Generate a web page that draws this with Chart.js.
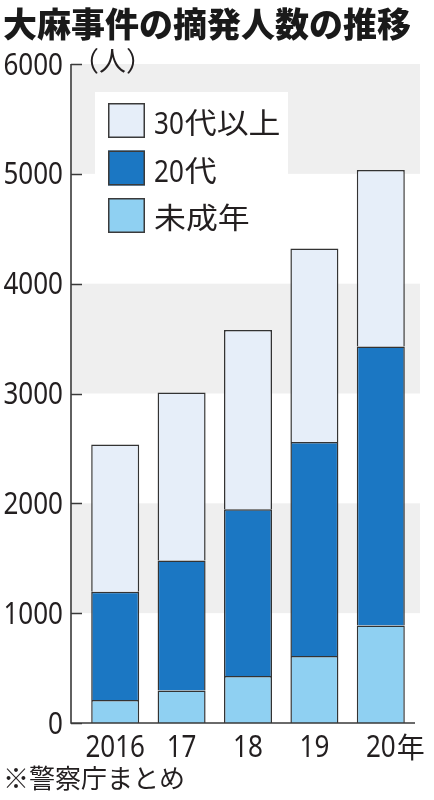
<!DOCTYPE html>
<html lang="ja">
<head>
<meta charset="utf-8">
<script src="https://cdn.jsdelivr.net/npm/chart.js@4.4.1/dist/chart.umd.min.js"></script>
<style>
  html, body { margin: 0; padding: 0; background: #ffffff; }
  canvas { display: block; }
</style>
</head>
<body>
<canvas id="c" width="434" height="800"></canvas>
<script>
// ---- data ----
const titleText = '大麻事件の摘発人数の推移';
const unitText = '（人）';
const sourceText = '※警察庁まとめ';
const categories = ['2016', '17', '18', '19', '20年'];
const seriesNames = ['未成年', '20代', '30代以上'];
const minors = [210, 297, 429, 609, 887];
const twenties = [985, 1183, 1517, 1950, 2540];
const thirtiesPlus = [1341, 1528, 1632, 1762, 1607];
const yTickValues = [0, 1000, 2000, 3000, 4000, 5000, 6000];
const bandRanges = [[1000, 2000], [3000, 4000], [5000, 6000]];

// ---- style ----
const NUM_FONT = "'Noto Sans', 'Open Sans', sans-serif";
const CJK_FONT = "'Noto Sans CJK JP', sans-serif";
const TEXT = '#231f20';
const LINE = '#3a3a3a';
const colors = ['#8fd0f2', '#1b77c3', '#e6eef9'];
const NUM_SX = 0.84; // condensed digits

// draw text where latin/digit runs are condensed and CJK runs use the CJK font
function drawMixed(ctx, text, x, y, opts) {
  const runs = text.match(/[0-9A-Za-z]+|[^0-9A-Za-z]+/g) || [];
  let cx = x;
  runs.forEach(r => {
    const isNum = /^[0-9A-Za-z]+$/.test(r);
    ctx.font = isNum ? opts.numSize + 'px ' + NUM_FONT : opts.cjkSize + 'px ' + CJK_FONT;
    const sx = isNum ? NUM_SX : (opts.cjkSx || 1);
    ctx.save();
    ctx.translate(cx, y);
    ctx.scale(sx, 1);
    ctx.textAlign = 'left';
    ctx.textBaseline = 'alphabetic';
    ctx.fillText(r, 0, 0);
    ctx.restore();
    cx += ctx.measureText(r).width * sx + (isNum ? 1 : 0);
  });
}

const decorPlugin = {
  id: 'decor',
  beforeDatasetsDraw(chart) {
    const ctx = chart.ctx, y = chart.scales.y, a = chart.chartArea;
    ctx.save();
    ctx.fillStyle = '#efefef';
    bandRanges.forEach(([lo, hi]) => {
      const top = y.getPixelForValue(hi), bot = y.getPixelForValue(lo);
      ctx.fillRect(a.left - 10, top, (a.right + 6) - (a.left - 10), bot - top);
    });
    ctx.restore();
  },
  afterDatasetsDraw(chart) {
    const ctx = chart.ctx, x = chart.scales.x, y = chart.scales.y, a = chart.chartArea;
    ctx.save();
    // axis lines and inward tick marks
    const axX = a.left - 11;
    ctx.strokeStyle = LINE;
    ctx.lineWidth = 1.6;
    ctx.beginPath();
    ctx.moveTo(axX, y.getPixelForValue(6000));
    ctx.lineTo(axX, y.getPixelForValue(0));
    ctx.lineTo(a.right + 1, y.getPixelForValue(0));
    y.ticks.forEach(t => {
      const py = Math.round(y.getPixelForValue(t.value)) + 0.5;
      ctx.moveTo(axX, py);
      ctx.lineTo(a.left, py);
    });
    ctx.stroke();

    // y tick labels (condensed digits, right aligned)
    ctx.fillStyle = TEXT;
    ctx.font = '31px ' + NUM_FONT;
    y.ticks.forEach(t => {
      const py = y.getPixelForValue(t.value);
      ctx.save();
      ctx.translate(a.left - 19, py + 10.5);
      ctx.scale(NUM_SX, 1);
      ctx.textAlign = 'right';
      ctx.textBaseline = 'alphabetic';
      ctx.fillText(String(t.value), 0, 0);
      ctx.restore();
    });

    // legend (reverse order of stack)
    ctx.fillStyle = '#ffffff';
    ctx.fillRect(95, 92, 193, 160);
    const ds = chart.data.datasets;
    for (let k = 0; k < ds.length; k++) {
      const d = ds[ds.length - 1 - k];
      const top = 103 + k * 47.5;
      ctx.fillStyle = d.backgroundColor;
      ctx.fillRect(108, top, 37, 35);
      ctx.strokeStyle = LINE;
      ctx.lineWidth = 1.5;
      ctx.strokeRect(108.75, top + 0.75, 35.5, 33.5);
      ctx.fillStyle = TEXT;
      drawMixed(ctx, d.label, 154, top + 31, { numSize: 31, cjkSize: 29, cjkSx: 1.1 });
    }

    // unit label
    ctx.fillStyle = TEXT;
    ctx.font = "27px " + CJK_FONT;
    ctx.textAlign = 'left';
    ctx.textBaseline = 'middle';
    ctx.fillText(unitText, 72, 61);

    // x labels
    chart.data.labels.forEach((lab, i) => {
      const cx = x.getPixelForValue(i);
      let num = lab, suf = '';
      if (lab.endsWith('年')) { num = lab.slice(0, -1); suf = '年'; }
      ctx.font = "31px " + NUM_FONT;
      const w = ctx.measureText(num).width * NUM_SX;
      ctx.save();
      ctx.translate(cx, 757);
      ctx.scale(NUM_SX, 1);
      ctx.textAlign = 'center';
      ctx.textBaseline = 'alphabetic';
      ctx.fillText(num, 0, 0);
      ctx.restore();
      if (suf) {
        ctx.font = "28px " + CJK_FONT;
        ctx.textAlign = 'left';
        ctx.textBaseline = 'alphabetic';
        ctx.fillText(suf, cx + w / 2 + 1, 758);
      }
    });

    // title
    ctx.font = "900 34px " + CJK_FONT;
    ctx.textAlign = 'left';
    ctx.textBaseline = 'middle';
    ctx.fillStyle = '#1a1a1a';
    ctx.fillText(titleText, 3, 24);

    // source
    ctx.font = "26px " + CJK_FONT;
    ctx.fillStyle = TEXT;
    ctx.fillText(sourceText, 3, 778);
    ctx.restore();
  }
};

const ds = (label, data, color) => ({
  label, data,
  backgroundColor: color,
  borderColor: '#333333',
  borderWidth: 1.5,
  barPercentage: 0.723,
  categoryPercentage: 1.0
});

new Chart(document.getElementById('c'), {
  type: 'bar',
  data: {
    labels: categories,
    datasets: [
      ds(seriesNames[0], minors, colors[0]),
      ds(seriesNames[1], twenties, colors[1]),
      ds(seriesNames[2], thirtiesPlus, colors[2])
    ]
  },
  options: {
    responsive: false,
    devicePixelRatio: 1,
    animation: false,
    layout: { padding: { top: 64, right: 20, bottom: 0, left: 0 } },
    plugins: {
      legend: { display: false },
      title: { display: false },
      tooltip: { enabled: false }
    },
    scales: {
      x: {
        stacked: true,
        grid: { display: false, drawTicks: false },
        border: { display: false },
        ticks: { display: false },
        afterFit(s) { s.height = 77; }
      },
      y: {
        stacked: true,
        min: 0,
        max: 6000,
        grid: { display: false, drawTicks: false },
        border: { display: false },
        ticks: { display: false, stepSize: 1000 },
        afterBuildTicks(s) { s.ticks = yTickValues.map(v => ({ value: v })); },
        afterFit(s) { s.width = 82; }
      }
    }
  },
  plugins: [decorPlugin]
});
</script>
</body>
</html>
